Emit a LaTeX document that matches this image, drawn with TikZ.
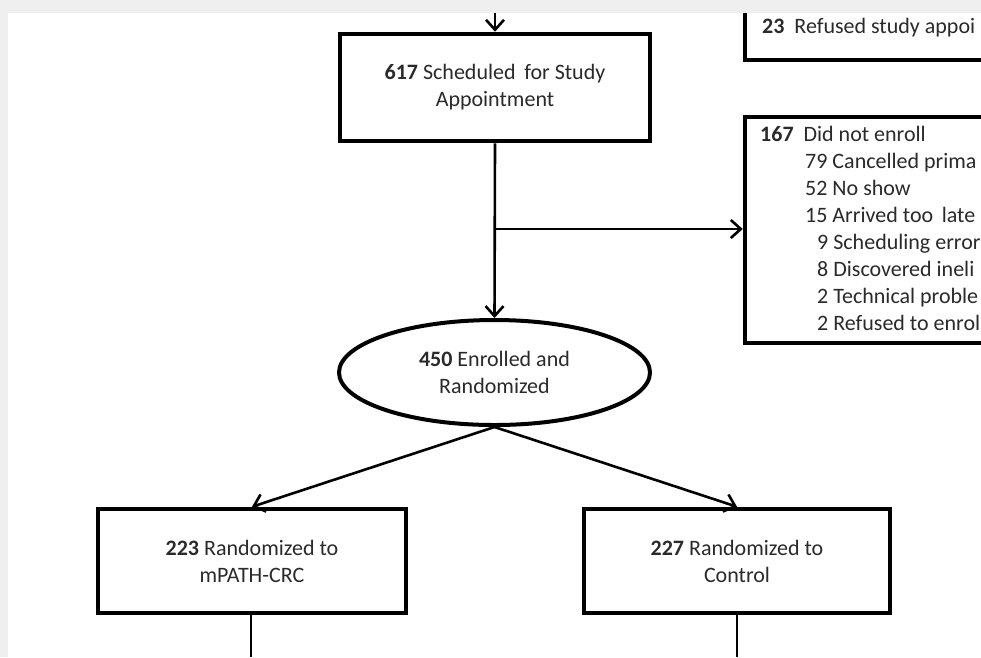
\documentclass[tikz,border=0pt]{standalone}
\usepackage{fontspec}
\setmainfont{Carlito}
\usetikzlibrary{arrows.meta,shapes.geometric}
\definecolor{txt}{HTML}{2A2A2A}
\definecolor{frame}{HTML}{EFEFEF}
\tikzset{
  box/.style={draw=black, line width=4.5pt, rectangle, inner sep=0pt, align=center,
    text=txt, font=\fontsize{22}{27}\selectfont},
  ell/.style={draw=black, line width=4pt, ellipse, inner sep=0pt, align=center,
    text=txt, font=\fontsize{22}{27}\selectfont},
  line/.style={draw=black, line width=2.6pt},
  arr/.style={line, -{Straight Barb[length=10pt,width=18pt,line width=2.6pt]}},
  lbl/.style={anchor=base west, inner sep=0pt, text=txt, font=\fontsize{22}{27}\selectfont}
}
\begin{document}
\begin{tikzpicture}[x=1pt,y=-1pt]
\useasboundingbox (0,0) rectangle (981,657);
\clip (0,0) rectangle (981,657);
\fill[white] (0,0) rectangle (981,657);

% nodes
\node[box, minimum width=310pt, minimum height=107pt] (sched) at (495,87.5)
  {\textbf{617} Scheduled\, for Study\\Appointment};
\node[box, minimum width=400pt, minimum height=110pt] (refused) at (945,5) {};
\node[box, minimum width=400pt, minimum height=226pt] (dne) at (945,230) {};
\node[ell, minimum width=311pt, minimum height=105pt] (enr) at (494.5,372.5)
  {\textbf{450} Enrolled and\\Randomized};
\node[box, minimum width=308pt, minimum height=104pt] (mpath) at (252,561)
  {\textbf{223} Randomized to\\mPATH-CRC};
\node[box, minimum width=306pt, minimum height=104pt] (ctrl) at (737,561)
  {\textbf{227} Randomized to\\Control};

% texts of the side boxes
\node[lbl] (t23) at (762,33) {\textbf{23}\ \ Refused study appoi};
\node[lbl] (t167) at (760,141) {\textbf{167}\ \ Did not enroll};
\node[lbl] (t79) at (805,168) {79 Cancelled prima};
\node[lbl] (t52) at (805,195) {52 No show};
\node[lbl] (t15) at (805,222) {15 Arrived too\, late};
\node[lbl] (t9) at (817,249) {9 Scheduling error};
\node[lbl] (t8) at (817,276) {8 Discovered ineli};
\node[lbl] (t2a) at (817,303) {2 Technical proble};
\node[lbl] (t2b) at (817,330) {2 Refused to enrol};

% connectors
\coordinate (topin) at (495,0);
\coordinate (branch) at (495,229);
\coordinate (outL) at (251,657);
\coordinate (outR) at (737,657);
\draw[arr] (topin) -- (sched.north);
\draw[arr] (sched.south) -- (enr.north);
\draw[arr] (branch) -- (branch -| dne.west);
\draw[arr] (enr.south) -- (mpath.north);
\draw[arr] (enr.south) -- (ctrl.north);
\draw[line] (mpath.south -| outL) -- (outL);
\draw[line] (ctrl.south) -- (outR);

% grey screenshot margin
\fill[frame] (0,0) rectangle (981,13);
\fill[frame] (0,0) rectangle (8,657);
\end{tikzpicture}
\end{document}
